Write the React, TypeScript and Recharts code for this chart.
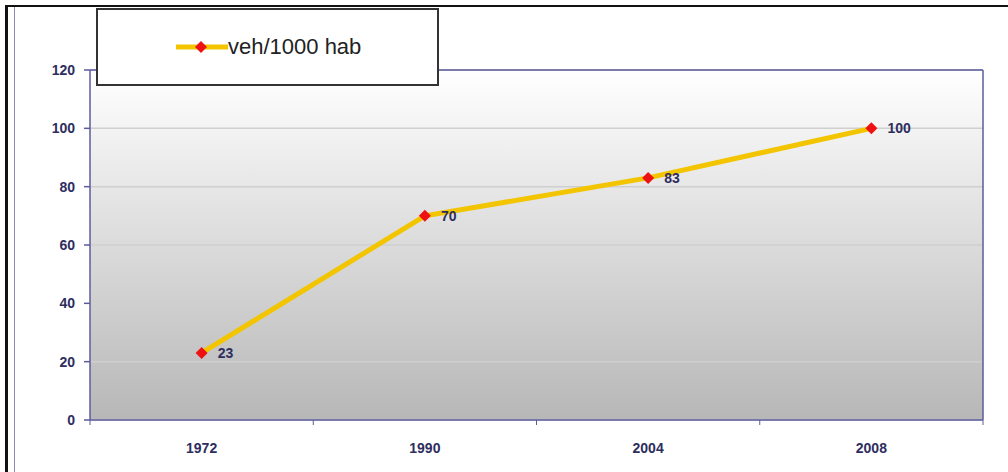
import { LineChart, Line, XAxis, YAxis, CartesianGrid, LabelList, ReferenceLine } from 'recharts'

const years = ['1972', '1990', '2004', '2008']
const vehicles = [23, 70, 83, 100]
const yTicks = [0, 20, 40, 60, 80, 100, 120]
const bandEdges = [0, 1, 2, 3, 4]
const seriesName = 'veh/1000 hab'

const data = years.map((year, i) => ({ pos: i + 0.5, year, value: vehicles[i] }))

const W = 1008
const H = 472
const PLOT_LEFT = 90
const PLOT_RIGHT = 983
const BAND = (PLOT_RIGHT - PLOT_LEFT) / years.length
const AXIS = '#5c5c9c'
const TEXT = '#2e2e5e'
const FONT = '"Liberation Sans", Arial, sans-serif'

// Excel-style category axis: tick marks between categories, labels centred in each band
const XTick = (props: any) => {
  const { x, y, payload } = props
  const i = payload.value
  return (
    <g>
      <line x1={x} x2={x} y1={y - 8} y2={y - 3} stroke={AXIS} strokeWidth={1} />
      {i < years.length && (
        <text x={x + BAND / 2} y={y + 25} textAnchor="middle" fill={TEXT} fontSize={14} fontWeight="bold" fontFamily={FONT}>
          {years[i]}
        </text>
      )}
    </g>
  )
}

const Diamond = (props: any) => {
  const { cx, cy, index } = props
  if (cx == null || cy == null) return <g key={index} />
  const r = 6
  return <path key={index} d={`M${cx},${cy - r}L${cx + r},${cy}L${cx},${cy + r}L${cx - r},${cy}Z`} fill="#ee1111" />
}

export default function App() {
  return (
    <div style={{ position: 'absolute', left: 0, top: 0, width: W, height: H, background: '#fff', overflow: 'hidden' }}>
      {/* outer frame */}
      <div style={{ position: 'absolute', left: 5, top: 5, width: W, height: 2, background: '#111' }} />
      <div style={{ position: 'absolute', left: 5, top: 5, width: 3, height: H, background: '#111' }} />
      <div style={{ position: 'absolute', left: 14, top: 7, width: 1, height: H, background: '#8a8ab0' }} />

      <LineChart width={W} height={H} data={data} margin={{ top: 70, right: 25, bottom: 22, left: 50 }}>
        <defs>
          <linearGradient id="plotBg" x1="0" y1="0" x2="0" y2="1">
            <stop offset="0%" stopColor="#ffffff" />
            <stop offset="100%" stopColor="#b7b7b7" />
          </linearGradient>
        </defs>
        <CartesianGrid vertical={false} fill="url(#plotBg)" stroke="#cfcfcf" strokeWidth={1.5} fillOpacity={1} />
        <XAxis
          dataKey="pos"
          type="number"
          domain={[0, 4]}
          ticks={bandEdges}
          interval={0}
          height={30}
          stroke={AXIS}
          strokeWidth={1.5}
          tickLine={false}
          tick={<XTick />}
        />
        <YAxis
          domain={[0, 120]}
          ticks={yTicks}
          interval={0}
          width={40}
          stroke={AXIS}
          strokeWidth={1.5}
          tickSize={6}
          tickMargin={9}
          tick={{ fill: TEXT, fontSize: 14, fontWeight: 'bold', fontFamily: FONT }}
        />
        <ReferenceLine y={120} stroke={AXIS} strokeWidth={1.5} />
        <ReferenceLine x={4} stroke={AXIS} strokeWidth={1.5} />
        <Line
          dataKey="value"
          name={seriesName}
          stroke="#f2c500"
          strokeWidth={5}
          dot={<Diamond />}
          activeDot={false}
          isAnimationActive={false}
        >
          <LabelList dataKey="value" position="right" offset={16} fill={TEXT} fontSize={14} fontWeight="bold" fontFamily={FONT} />
        </Line>
      </LineChart>

      {/* legend box */}
      <div
        style={{
          position: 'absolute',
          left: 96,
          top: 8,
          width: 339,
          height: 74,
          border: '2px solid #333',
          background: '#fff',
          display: 'flex',
          alignItems: 'center',
          fontFamily: FONT,
        }}
      >
        <svg width={52} height={14} style={{ marginLeft: 78 }}>
          <line x1={0} x2={52} y1={7} y2={7} stroke="#f2c500" strokeWidth={5} />
          <path d="M25,1L31,7L25,13L19,7Z" fill="#ee1111" />
        </svg>
        <span style={{ fontSize: 22, color: '#222' }}>{seriesName}</span>
      </div>
    </div>
  )
}
